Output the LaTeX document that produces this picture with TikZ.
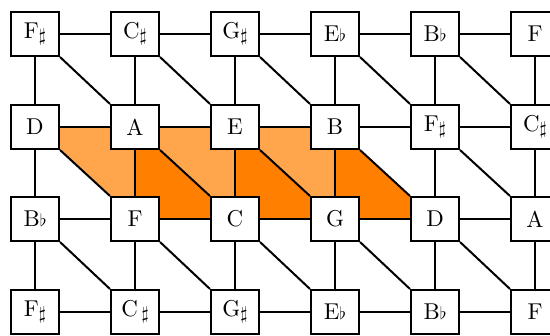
\documentclass[tikz,border=0pt]{standalone}
\usetikzlibrary{backgrounds}
\newcommand{\sh}{\raisebox{-0.12em}{\scalebox{0.8}{$\sharp$}}}
\newcommand{\fl}{\scalebox{0.75}{$\flat$}}
\newcommand{\notetext}[1]{\scalebox{2.3}{#1}}
\definecolor{darkorange}{RGB}{255,128,0}
\definecolor{lightorange}{RGB}{255,166,77}
\tikzset{
  notebox/.style={draw, fill=white, line width=2bp, minimum width=48bp,
    minimum height=44bp, inner sep=0pt},
  link/.style={line width=2bp},
  lightpatch/.style={fill=lightorange, draw=none},
  darkpatch/.style={fill=darkorange, draw=none}
}
\begin{document}
\begin{tikzpicture}[x=1bp, y=-1bp]
\clip (0,0) rectangle (550,335);
% the lattice of note boxes, row by row
\foreach \lbl [count=\col] in {F\sh, C\sh, G\sh, E\fl, B\fl, F}
  \node[notebox] (r1c\col) at ({35+100*(\col-1)}, 34) {\notetext{\lbl}};
\foreach \lbl [count=\col] in {D, A, E, B, F\sh, C\sh}
  \node[notebox] (r2c\col) at ({35+100*(\col-1)}, 127) {\notetext{\lbl}};
\foreach \lbl [count=\col] in {B\fl, F, C, G, D, A}
  \node[notebox] (r3c\col) at ({35+100*(\col-1)}, 219) {\notetext{\lbl}};
\foreach \lbl [count=\col] in {F\sh, C\,\sh, G\sh, E\fl, B\fl, F}
  \node[notebox] (r4c\col) at ({35+100*(\col-1)}, 312) {\notetext{\lbl}};
% horizontal links
\foreach \row in {1,...,4}
  \foreach \col in {1,...,5} {
    \pgfmathtruncatemacro{\nxt}{\col+1}
    \draw[link] (r\row c\col) -- (r\row c\nxt);
  }
% vertical links
\foreach \row in {1,2,3}
  \foreach \col in {1,...,6} {
    \pgfmathtruncatemacro{\dwn}{\row+1}
    \draw[link] (r\row c\col) -- (r\dwn c\col);
  }
% diagonal links
\foreach \row in {1,2,3}
  \foreach \col in {1,...,5} {
    \pgfmathtruncatemacro{\dwn}{\row+1}
    \pgfmathtruncatemacro{\nxt}{\col+1}
    \draw[link] (r\row c\col.south east) -- (r\dwn c\nxt.north west);
  }
% shaded triangles of the strip between rows 2 and 3
\begin{scope}[on background layer]
  \fill[lightpatch] (r2c1.center) -- (r2c2.center) -- (r3c2.center) -- cycle;
  \fill[lightpatch] (r2c2.center) -- (r2c3.center) -- (r3c3.center) -- cycle;
  \fill[lightpatch] (r2c3.center) -- (r2c4.center) -- (r3c4.center) -- cycle;
  \fill[darkpatch] (r2c2.center) -- (r3c2.center) -- (r3c3.center) -- cycle;
  \fill[darkpatch] (r2c3.center) -- (r3c3.center) -- (r3c4.center) -- cycle;
  \fill[darkpatch] (r2c4.center) -- (r3c4.center) -- (r3c5.center) -- cycle;
\end{scope}
\end{tikzpicture}
\end{document}
